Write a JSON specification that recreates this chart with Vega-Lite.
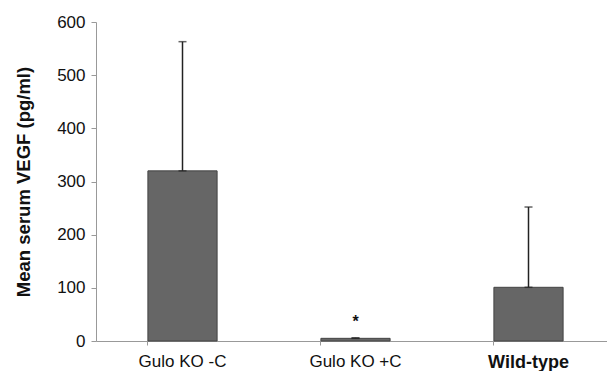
{
  "$schema": "https://vega.github.io/schema/vega-lite/v6.json",
  "width": 519,
  "height": 319,
  "autosize": {"type": "none"},
  "padding": {"left": 96, "top": 22, "right": 0, "bottom": 30},
  "background": "white",
  "config": {"view": {"stroke": null}, "font": "Liberation Sans"},
  "data": {"values": [
    {"group": "Gulo KO -C", "mean": 320, "upper": 563, "sig": ""},
    {"group": "Gulo KO +C", "mean": 5, "upper": 6, "sig": "*"},
    {"group": "Wild-type", "mean": 101, "upper": 252, "sig": ""}
  ]},
  "layer": [
    {
      "mark": {"type": "bar", "color": "#666666", "stroke": "#444444", "strokeWidth": 1},
      "encoding": {
        "x": {"field": "group", "type": "nominal", "sort": null,
          "scale": {"paddingInner": 0.6, "paddingOuter": 0.3},
          "axis": {"title": null, "ticks": false, "domain": true, "domainColor": "#999999",
            "labelFontSize": {"expr": "datum.value == 'Wild-type' ? 18 : 17"}, "labelColor": "#111111", "labelPadding": 12, "labelAngle": 0,
            "labelFontWeight": {"expr": "datum.value == 'Wild-type' ? 'bold' : 'normal'"}}},
        "y": {"field": "mean", "type": "quantitative",
          "scale": {"domain": [0, 600]},
          "axis": {"values": [0, 100, 200, 300, 400, 500, 600], "grid": false,
            "title": "Mean serum VEGF (pg/ml)", "titleFontSize": 18.5, "titleFontWeight": "bold",
            "titleColor": "#111111", "titlePadding": 23,
            "labelFontSize": 17, "labelColor": "#111111", "labelPadding": 6,
            "domainColor": "#999999", "tickColor": "#999999", "tickSize": 5}}
      }
    },
    {
      "mark": {"type": "rule", "color": "#222222", "strokeWidth": 1.5},
      "encoding": {
        "x": {"field": "group", "type": "nominal", "sort": null, "axis": null},
        "y": {"field": "mean", "type": "quantitative"},
        "y2": {"field": "upper"}
      }
    },
    {
      "mark": {"type": "tick", "color": "#222222", "thickness": 1.5, "size": 8},
      "encoding": {
        "x": {"field": "group", "type": "nominal", "sort": null, "axis": null},
        "y": {"field": "upper", "type": "quantitative"}
      }
    },
    {
      "mark": {"type": "tick", "color": "#222222", "thickness": 1.5, "size": 8},
      "encoding": {
        "x": {"field": "group", "type": "nominal", "sort": null, "axis": null},
        "y": {"field": "mean", "type": "quantitative"}
      }
    },
    {
      "mark": {"type": "text", "fontSize": 16, "fontWeight": "bold", "color": "#111111", "dy": -16},
      "encoding": {
        "x": {"field": "group", "type": "nominal", "sort": null,
          "axis": {"title": null, "labels": false, "domain": false, "ticks": true, "orient": "bottom",
            "bandPosition": 0, "tickColor": "#999999", "tickSize": 4}},
        "y": {"field": "upper", "type": "quantitative"},
        "text": {"field": "sig"}
      }
    }
  ],
  "resolve": {"axis": {"x": "independent"}}
}
